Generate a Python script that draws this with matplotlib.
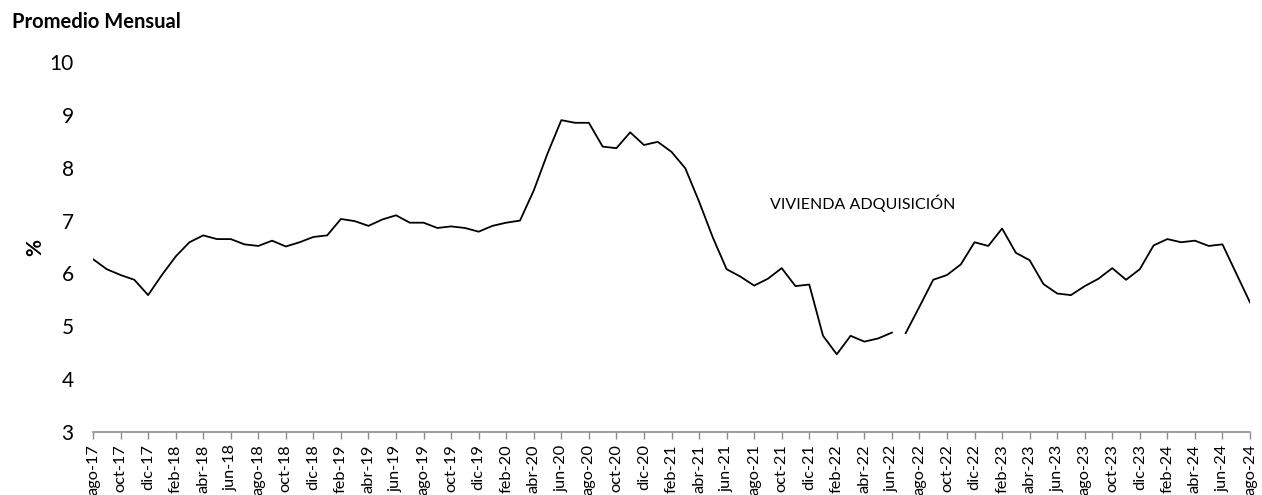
import matplotlib.pyplot as plt
import numpy as np

plt.rcParams["font.family"] = ["Lato", "DejaVu Sans"]

# etiquetas mensuales ago-17 .. ago-24
meses = ["ene", "feb", "mar", "abr", "may", "jun", "jul", "ago", "sep", "oct", "nov", "dic"]
fechas = []
for i in range(85):
    m = (7 + i) % 12
    a = 17 + (7 + i) // 12
    fechas.append(f"{meses[m]}-{a}")

# tramo 1: ago-17 .. jun-22
tasa_1 = [6.27, 6.08, 5.97, 5.88, 5.59, 5.97, 6.32, 6.59, 6.72, 6.65, 6.65, 6.55,
          6.52, 6.62, 6.51, 6.59, 6.69, 6.72, 7.03, 6.99, 6.90, 7.02, 7.10, 6.96,
          6.96, 6.86, 6.89, 6.86, 6.79, 6.90, 6.96, 7.00, 7.57, 8.27, 8.90, 8.85,
          8.85, 8.40, 8.37, 8.67, 8.43, 8.49, 8.30, 7.99, 7.36, 6.68, 6.08, 5.94,
          5.77, 5.90, 6.10, 5.76, 5.79, 4.82, 4.47, 4.82, 4.71, 4.77, 4.88]
# tramo 2: jul-22 .. ago-24
tasa_2 = [4.87, 5.37, 5.88, 5.97, 6.17, 6.59, 6.52, 6.85, 6.39, 6.25, 5.80, 5.62,
          5.59, 5.76, 5.90, 6.10, 5.88, 6.08, 6.53, 6.65, 6.59, 6.62, 6.52, 6.55,
          6.00, 5.45]

x1 = np.arange(len(tasa_1))
x2 = np.arange(len(tasa_1), len(tasa_1) + len(tasa_2))

fig = plt.figure(figsize=(12.62, 4.95), dpi=100)
ax = fig.add_axes([0.0737, 0.1273, 0.9168, 0.7474])

ax.plot(x1, tasa_1, color="black", lw=1.3)
ax.plot(x2, tasa_2, color="black", lw=1.3)

ax.set_xlim(0, 84)
ax.set_ylim(3, 10)
ax.set_yticks(range(3, 11))
ax.tick_params(axis="y", length=0, labelsize=15, pad=14)
ax.set_xticks(range(0, 85, 2))
ax.set_xticklabels(fechas[::2], rotation=90, fontsize=11.8)
ax.tick_params(axis="x", length=5, color="#8c8c8c", width=1, pad=4)

for s in ["left", "right", "top"]:
    ax.spines[s].set_visible(False)
ax.spines["bottom"].set_color("#8c8c8c")
ax.spines["bottom"].set_linewidth(1.2)

ax.set_ylabel("%", fontsize=15, fontweight="bold", labelpad=3)
fig.text(0.0095, 0.955, "Promedio Mensual", fontsize=14.5, fontweight="bold", ha="left", va="center")
ax.text(55.9, 7.33, "VIVIENDA ADQUISICIÓN", fontsize=11.5, ha="center", va="center")

plt.savefig("out.png", dpi=100)
